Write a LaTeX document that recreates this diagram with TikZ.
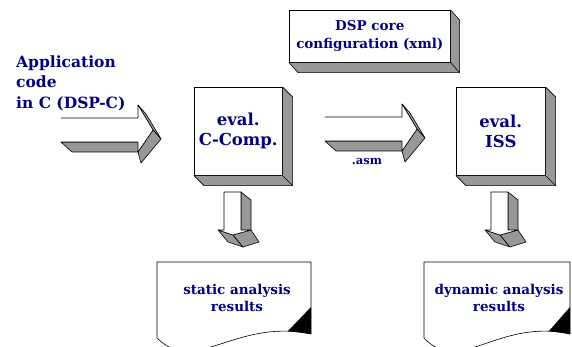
\documentclass[tikz,border=0pt]{standalone}
\usepackage{fontspec}
\setmainfont{DejaVu Serif}
\usepackage{tikz}
\usetikzlibrary{positioning, calc}
\definecolor{dnavy}{HTML}{000080}
\definecolor{dshade}{HTML}{989898}

\tikzset{
  face/.style={fill=dshade, draw=black, line width=0.6pt, line join=round},
  frontface/.style={fill=white, draw=black, line width=0.6pt, line join=round},
  lbl/.style={text=dnavy, align=center, inner sep=0pt},
}

%% 3D block arrow pointing right, #1 = top left corner of the shaft
\newcommand{\rightblock}[1]{%
  \begin{scope}[shift={#1}]
    \draw[face] (0,24) -- (77,24) -- (86,34) -- (11,34) -- cycle;
    \draw[face] (77,-13) -- (92,12) -- (100,21) -- (85,-4) -- cycle;
    \draw[face] (92,12) -- (77,34) -- (80,45) -- (100,21) -- cycle;
    \fill[white] (0,0) -- (77,0) -- (77,-13) -- (92,12) -- (77,34) -- (77,24) -- (0,24) -- cycle;
    \draw[line width=0.6pt, line join=round] (0,0) -- (77,0) -- (77,-13) -- (92,12) -- (77,34) -- (77,24) -- (0,24);
  \end{scope}}

%% 3D block arrow pointing down, #1 = top left corner of the shaft
\newcommand{\downblock}[1]{%
  \begin{scope}[shift={#1}]
    \draw[face] (17,0) -- (27,8) -- (27,46) -- (17,38) -- cycle;
    \draw[face] (-6,38) -- (9,43) -- (19,55) -- (4,50) -- cycle;
    \draw[face] (9,43) -- (27,38) -- (35,50) -- (19,55) -- cycle;
    \draw[frontface] (0,0) -- (17,0) -- (17,38) -- (27,38) -- (9,43) -- (-6,38) -- (0,38) -- cycle;
  \end{scope}}

%% depth of a box node
\newcommand{\boxdepth}[2]{%
  \draw[face] (#1.north east) -- ++(#2) -- ($(#1.south east)+(#2)$) -- ($(#1.south west)+(#2)$)
    -- (#1.south west) -- (#1.south east) -- cycle;
  \draw[line width=0.6pt] (#1.south east) -- ++(#2);}

\begin{document}
\begin{tikzpicture}[x=1pt, y=-1pt]
\useasboundingbox (0,0) rectangle (572,347);

%% input text
\node[lbl, align=left, anchor=west, font=\fontsize{15.5}{20.5}\selectfont\bfseries] (app) at (16,83)
  {Application\\code\\in C (DSP-C)};

%% boxes
\node[frontface, lbl, minimum width=88pt, minimum height=88pt, anchor=north west,
  font=\fontsize{16.5}{20}\selectfont\bfseries] (ccomp) at (194,87) {eval.\\C-Comp.};
\boxdepth{ccomp}{10,10}

\node[frontface, lbl, minimum width=89pt, minimum height=88pt, anchor=north west,
  font=\fontsize{16.5}{20}\selectfont\bfseries] (iss) at (456,87) {eval.\\ISS};
\boxdepth{iss}{10,10}

\node[frontface, lbl, minimum width=161pt, minimum height=52pt, anchor=north west,
  font=\fontsize{13.5}{18}\selectfont\bfseries] (cfg) at (289,10) {DSP core\\configuration (xml)};
\boxdepth{cfg}{9,10}

%% block arrows
\coordinate (in1) at (61,118);
\coordinate (in2) at (325,117);
\coordinate (out1) at (224,192);
\coordinate (out2) at (491,192);
\rightblock{(in1)}
\rightblock{(in2)}
\downblock{(out1)}
\downblock{(out2)}
\node[lbl, font=\fontsize{11.5}{13}\selectfont\bfseries] (asm) at (367,162) {.asm};

%% result documents
\draw[frontface] (157,262) -- (311,262) -- (311,334)
  .. controls (235,318) and (195,376) .. (157,338) -- cycle;
\fill[black] (288,331) -- (311,307) -- (311,334) -- cycle;
\node[lbl, font=\fontsize{13.5}{17}\selectfont\bfseries] (sres) at (237,298) {static analysis\\results};

\draw[frontface] (424,262) -- (570,262) -- (570,334)
  .. controls (498,318) and (460,376) .. (424,338) -- cycle;
\fill[black] (549,331) -- (570,307) -- (570,334) -- cycle;
\node[lbl, font=\fontsize{13.5}{17}\selectfont\bfseries] (dres) at (499,298) {dynamic analysis\\results};

\end{tikzpicture}
\end{document}
